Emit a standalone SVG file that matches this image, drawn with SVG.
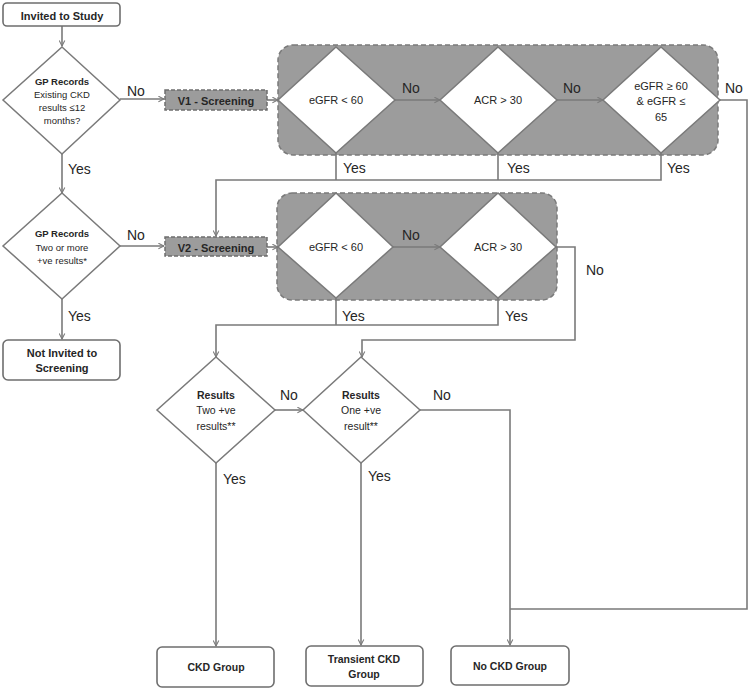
<svg xmlns="http://www.w3.org/2000/svg" width="752" height="690" viewBox="0 0 752 690">
<defs>
<style>
.box{fill:#fff;stroke:#6e6e6e;stroke-width:1.6}
.dia{fill:#fff;stroke:#7a7a7a;stroke-width:1.5}
.grp{fill:#9c9c9c;stroke:#7a7a7a;stroke-width:1.5;stroke-dasharray:5,3}
.scr{fill:#9c9c9c;stroke:#6e6e6e;stroke-width:1.5;stroke-dasharray:4,2}
.ln{fill:none;stroke:#7a7a7a;stroke-width:1.6}
.arr{marker-end:url(#ah)}
text{font-family:"Liberation Sans",Arial,sans-serif;fill:#262626;text-anchor:middle}
.b{font-weight:bold;font-size:11px}
.d{font-size:9.5px}
.db{font-size:9.5px;font-weight:bold}
.r{font-size:10.5px}
.rb{font-size:10.5px;font-weight:bold}
.c{font-size:11px}
.lab{font-size:14px;text-anchor:start}
</style>
<marker id="ah" viewBox="0 0 10 10" refX="9" refY="5" markerWidth="7" markerHeight="7" markerUnits="userSpaceOnUse" orient="auto">
<path d="M1,1 L9,5 L1,9" fill="none" stroke="#7a7a7a" stroke-width="1.5"/>
</marker>
</defs>
<rect width="752" height="690" fill="#fff"/>

<g id="container1"><rect class="grp" x="278" y="45" width="440" height="110" rx="15"/></g>
<g id="container2"><rect class="grp" x="277" y="193" width="280" height="107" rx="15"/></g>

<g id="connectors">
<line class="ln arr" x1="62" y1="26" x2="62" y2="46"/>
<line class="ln arr" x1="120" y1="99" x2="164" y2="99"/>
<line class="ln arr" x1="267" y1="100" x2="278" y2="100"/>
<line class="ln arr" x1="395" y1="100" x2="440" y2="100"/>
<line class="ln arr" x1="557" y1="100" x2="603" y2="100"/>
<polyline class="ln" points="336,153 336,180"/>
<polyline class="ln" points="498,153 498,180"/>
<polyline class="ln arr" points="661,153 661,180 216,180 216,236"/>
<polyline class="ln" points="720,100 747,100 747,609 510,609"/>
<line class="ln arr" x1="62" y1="154" x2="62" y2="193"/>
<line class="ln arr" x1="120" y1="246" x2="164" y2="246"/>
<line class="ln arr" x1="267" y1="247" x2="278" y2="247"/>
<line class="ln arr" x1="393" y1="247" x2="440" y2="247"/>
<line class="ln arr" x1="62" y1="299" x2="62" y2="339"/>
<polyline class="ln" points="336,298 336,325"/>
<polyline class="ln arr" points="498,298 498,325 216,325 216,357"/>
<polyline class="ln arr" points="556,247 575,247 575,340 362,340 362,357"/>
<line class="ln arr" x1="275" y1="410" x2="303" y2="410"/>
<line class="ln arr" x1="216" y1="463" x2="216" y2="646"/>
<line class="ln arr" x1="361" y1="463" x2="361" y2="645"/>
<polyline class="ln arr" points="420,410 510,410 510,645"/>
</g>

<g id="invited"><rect class="box" x="3" y="3" width="117" height="23" rx="4"/><text class="b" x="62" y="19.5">Invited to Study</text></g>

<g id="gp1"><polygon class="dia" points="62,47 120,100 62,154 3,100"/>
<text class="db" x="62" y="85">GP Records</text>
<text class="d" x="62" y="98">Existing CKD</text>
<text class="d" x="62" y="111">results ≤12</text>
<text class="d" x="62" y="124">months?</text></g>

<g id="v1"><rect class="scr" x="165" y="90" width="102" height="20"/><text class="b" x="216" y="105">V1 - Screening</text></g>

<g id="v1egfr"><polygon class="dia" points="336,47 395,100 336,153 278,100"/><text class="c" x="336" y="104">eGFR &lt; 60</text></g>
<g id="v1acr"><polygon class="dia" points="498,47 557,100 498,153 440,100"/><text class="c" x="498" y="104">ACR &gt; 30</text></g>
<g id="v1range"><polygon class="dia" points="661,47 720,100 661,153 603,100"/>
<text class="c" x="661" y="90">eGFR ≥ 60</text>
<text class="c" x="661" y="105">&amp; eGFR ≤</text>
<text class="c" x="661" y="121">65</text></g>

<g id="gp2"><polygon class="dia" points="62,193 120,246 62,299 3,246"/>
<text class="db" x="62" y="237">GP Records</text>
<text class="d" x="62" y="251">Two or more</text>
<text class="d" x="62" y="264">+ve results*</text></g>

<g id="v2"><rect class="scr" x="165" y="237" width="102" height="19"/><text class="b" x="216" y="252">V2 - Screening</text></g>

<g id="v2egfr"><polygon class="dia" points="336,193 393,247 336,298 278,247"/><text class="c" x="336" y="251">eGFR &lt; 60</text></g>
<g id="v2acr"><polygon class="dia" points="498,193 556,247 498,298 440,247"/><text class="c" x="498" y="251">ACR &gt; 30</text></g>

<g id="notinvited"><rect class="box" x="3" y="340" width="117" height="40" rx="5"/>
<text class="b" x="62" y="357">Not Invited to</text><text class="b" x="62" y="372">Screening</text></g>

<g id="res1"><polygon class="dia" points="216,357 275,410 216,463 157,410"/>
<text class="rb" x="216" y="399">Results</text>
<text class="r" x="216" y="414">Two +ve</text>
<text class="r" x="216" y="430">results**</text></g>

<g id="res2"><polygon class="dia" points="361,357 420,410 361,463 303,410"/>
<text class="rb" x="361" y="399">Results</text>
<text class="r" x="361" y="414">One +ve</text>
<text class="r" x="361" y="430">result**</text></g>

<g id="ckd"><rect class="box" x="157" y="647" width="117" height="40" rx="5"/><text class="rb" x="216" y="671">CKD Group</text></g>
<g id="transient"><rect class="box" x="306" y="646" width="117" height="40" rx="5"/><text class="rb" x="364" y="663">Transient CKD</text><text class="rb" x="364" y="678">Group</text></g>
<g id="nockd"><rect class="box" x="451" y="646" width="118" height="39" rx="5"/><text class="rb" x="510" y="670">No CKD Group</text></g>

<g id="labels">
<text class="lab" x="127" y="96">No</text>
<text class="lab" x="68" y="174">Yes</text>
<text class="lab" x="402" y="93">No</text>
<text class="lab" x="563" y="93">No</text>
<text class="lab" x="725" y="93">No</text>
<text class="lab" x="343" y="173">Yes</text>
<text class="lab" x="507" y="173">Yes</text>
<text class="lab" x="667" y="173">Yes</text>
<text class="lab" x="127" y="240">No</text>
<text class="lab" x="68" y="321">Yes</text>
<text class="lab" x="402" y="240">No</text>
<text class="lab" x="342" y="321">Yes</text>
<text class="lab" x="505" y="321">Yes</text>
<text class="lab" x="586" y="275">No</text>
<text class="lab" x="280" y="400">No</text>
<text class="lab" x="433" y="400">No</text>
<text class="lab" x="223" y="484">Yes</text>
<text class="lab" x="368" y="481">Yes</text>
</g>
</svg>
